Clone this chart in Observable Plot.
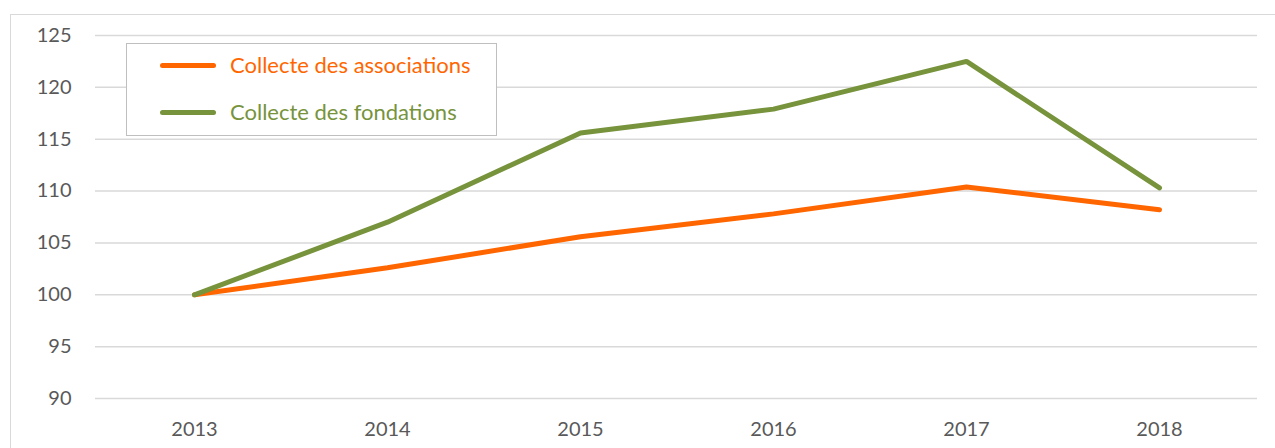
<!DOCTYPE html>
<html>
<head>
<meta charset="utf-8">
<script src="https://cdn.jsdelivr.net/npm/d3@7"></script>
<script src="https://cdn.jsdelivr.net/npm/@observablehq/plot@0.6"></script>
<style>
  html, body { margin: 0; padding: 0; background: #fff; }
  #wrap { position: relative; width: 1275px; height: 448px; overflow: hidden; font-family: Lato, "Open Sans", sans-serif; }
  #frame { position: absolute; left: 10px; top: 14px; width: 1300px; height: 500px; border: 1px solid #d9d9d9; box-sizing: border-box; pointer-events: none; }
  #chart { position: absolute; left: 0; top: 0; }
  #legend { position: absolute; left: 126px; top: 43px; width: 371px; height: 93px; border: 1.5px solid #bfbfbf; box-sizing: border-box; background: #fff; }
  .item { position: absolute; left: 33px; display: flex; align-items: center; font-size: 22px; line-height: 26px; }
  .sw { width: 56px; height: 5px; border-radius: 3px; margin-right: 14px; }
</style>
</head>
<body>
<div id="wrap">
  <div id="frame"></div>
  <div id="chart"></div>
  <div id="legend"></div>
</div>
<script>
const years = ["2013", "2014", "2015", "2016", "2017", "2018"];
const associations = [100, 102.6, 105.6, 107.8, 110.4, 108.2];
const fondations = [100, 107.0, 115.6, 117.9, 122.5, 110.3];
const seriesNames = ["Collecte des associations", "Collecte des fondations"];
const seriesColors = ["#ff6600", "#77933c"];
const yTicks = [90, 95, 100, 105, 110, 115, 120, 125];

const rows = [];
years.forEach((y, i) => {
  rows.push({ year: y, value: associations[i], series: seriesNames[0] });
  rows.push({ year: y, value: fondations[i], series: seriesNames[1] });
});

const chart = Plot.plot({
  width: 1275,
  height: 448,
  marginLeft: 95,
  marginRight: 18,
  marginTop: 35,
  marginBottom: 50,
  style: { fontFamily: "Lato, 'Open Sans', sans-serif", fontSize: "20px", color: "#595959", background: "transparent" },
  x: { type: "point", domain: years, padding: 0.5, label: null },
  y: { domain: [90, 125], label: null },
  color: { domain: seriesNames, range: seriesColors },
  marks: [
    Plot.gridY(yTicks, { stroke: "#d9d9d9", strokeOpacity: 1, strokeWidth: 1.5 }),
    Plot.axisY(yTicks, { tickSize: 0, tickPadding: 24, fill: "#595959", fontSize: 20 }),
    Plot.axisX(years, { tickSize: 0, tickPadding: 23, fill: "#595959", fontSize: 20 }),
    Plot.line(rows, { x: "year", y: "value", z: "series", stroke: "series", strokeWidth: 5, strokeLinecap: "round", strokeLinejoin: "miter" })
  ]
});
document.getElementById("chart").appendChild(chart);

const legend = document.getElementById("legend");
seriesNames.forEach((name, i) => {
  const item = document.createElement("div");
  item.className = "item";
  item.style.top = (i === 0 ? 8 : 55) + "px";
  item.style.color = seriesColors[i];
  const sw = document.createElement("div");
  sw.className = "sw";
  sw.style.background = seriesColors[i];
  const label = document.createElement("span");
  label.textContent = name;
  item.appendChild(sw);
  item.appendChild(label);
  legend.appendChild(item);
});
</script>
</body>
</html>
